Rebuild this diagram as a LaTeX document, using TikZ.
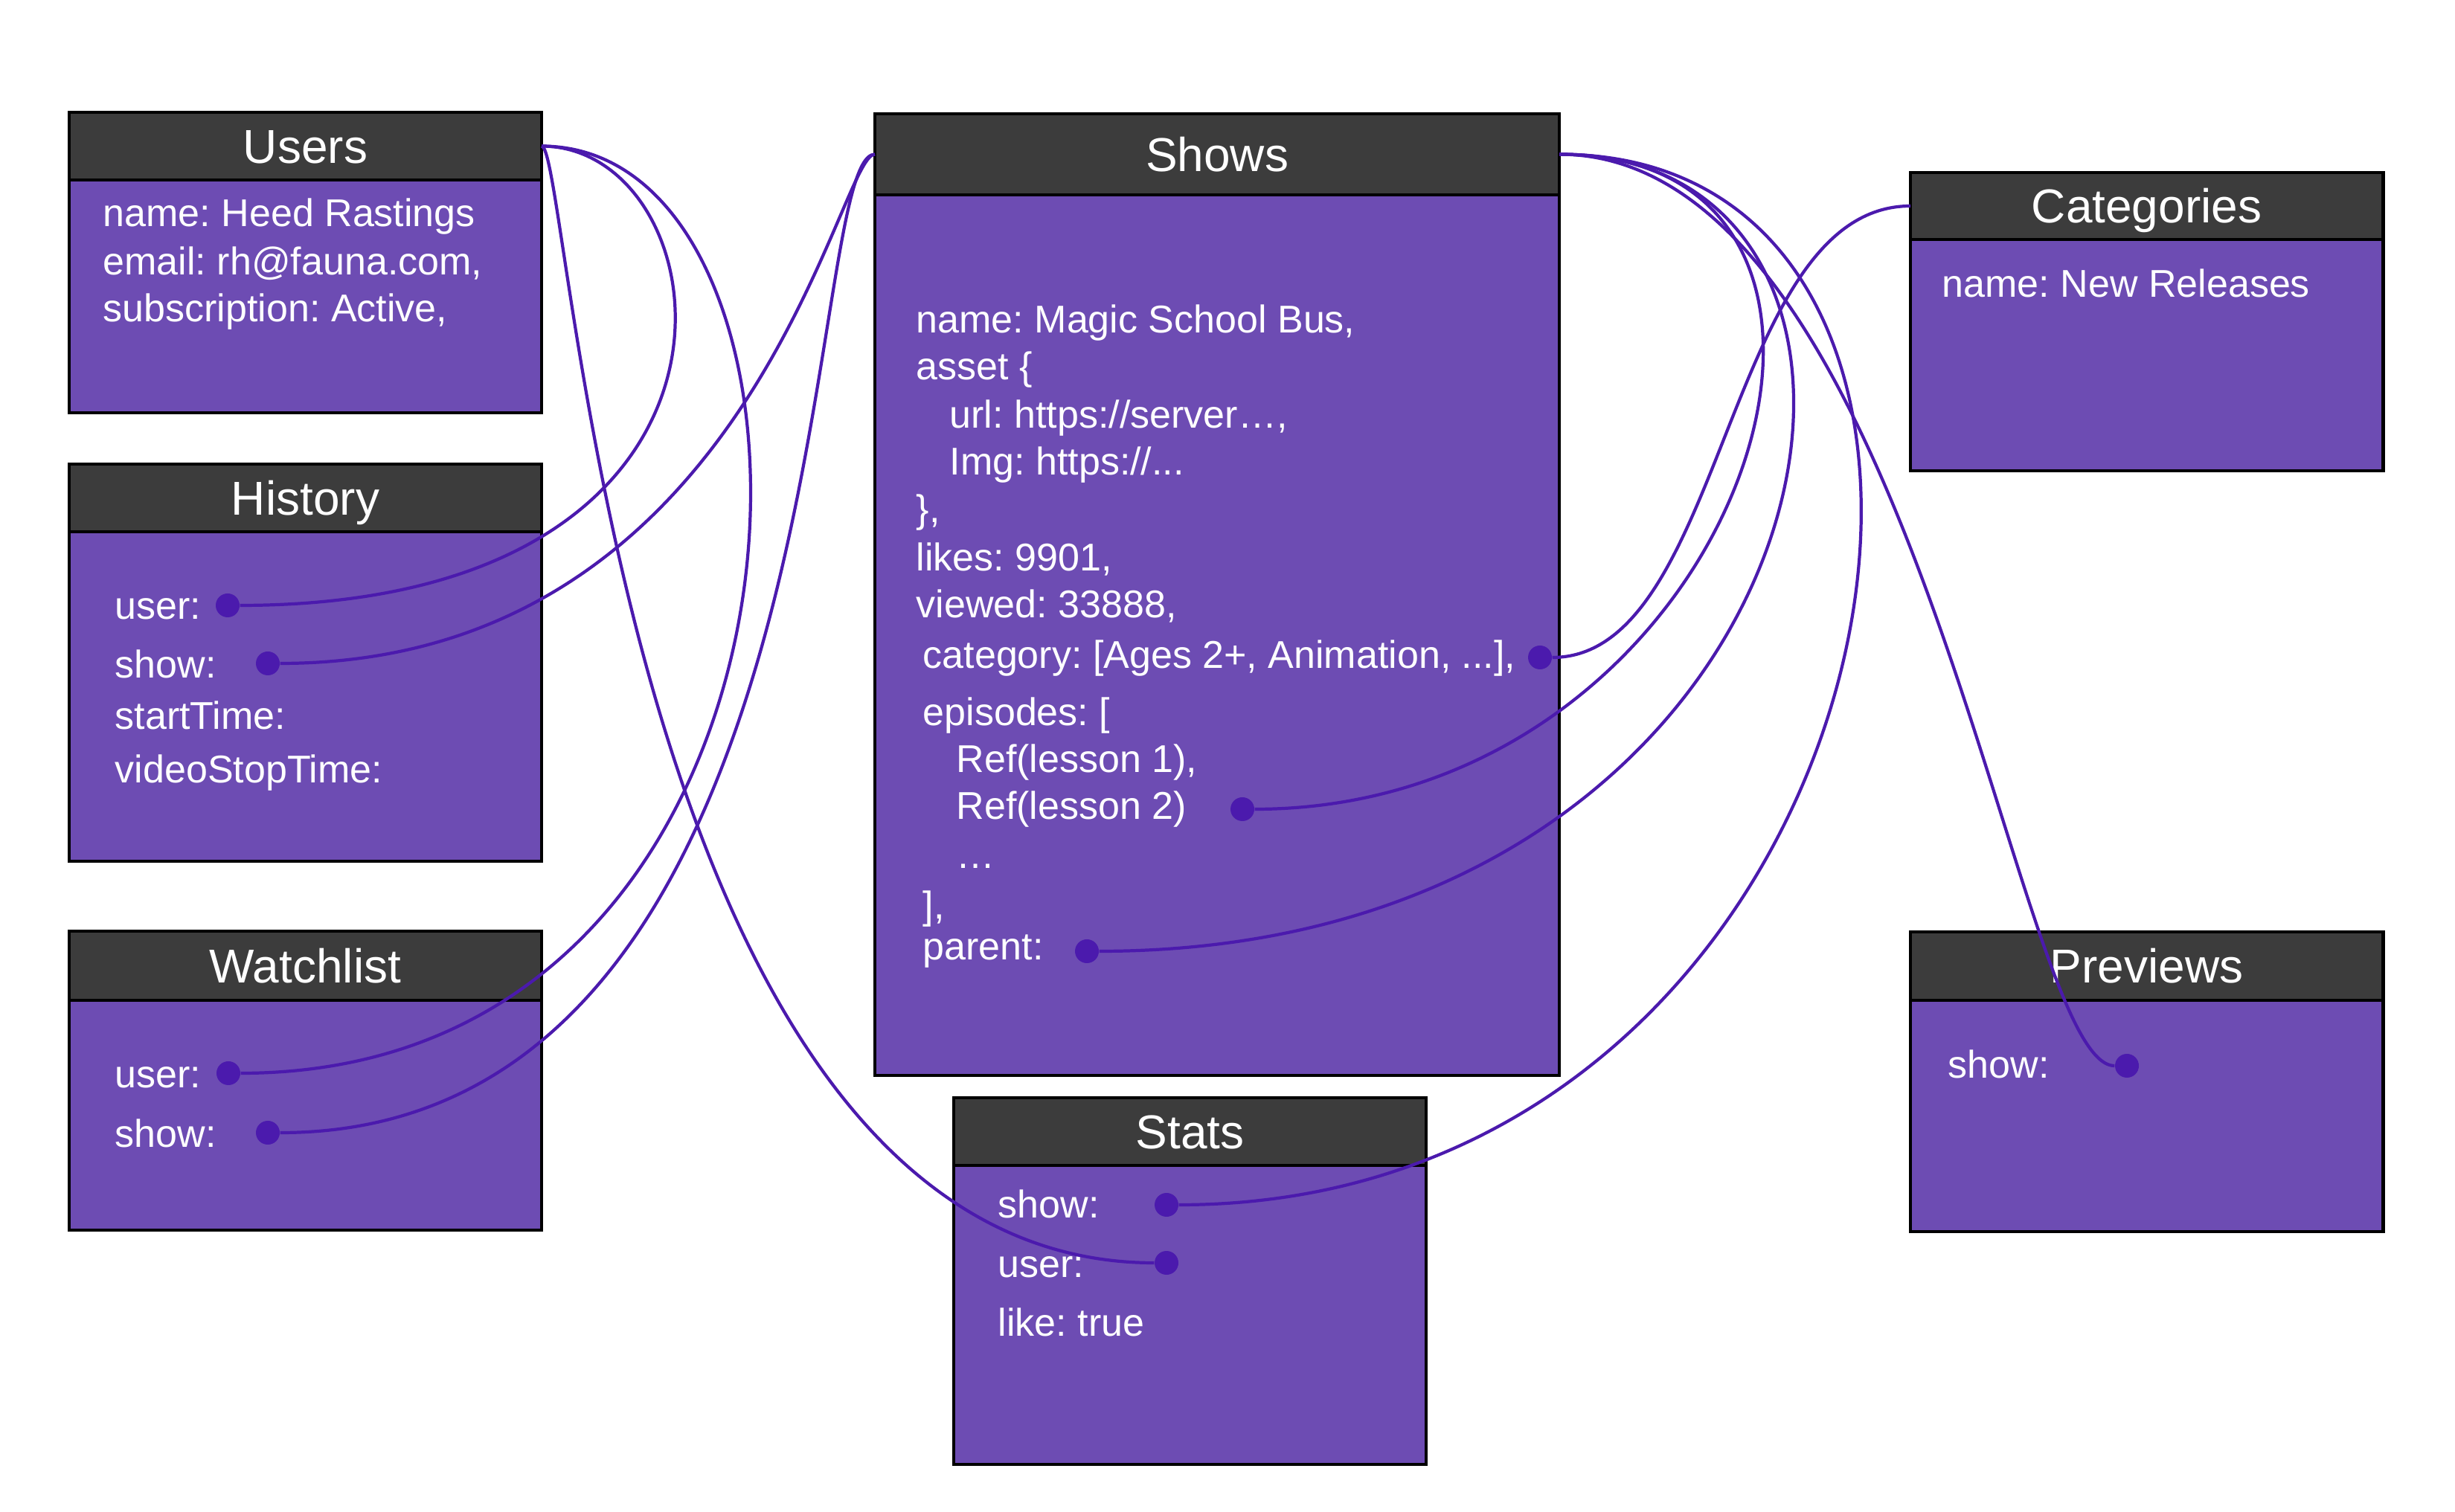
\documentclass[tikz,border=0pt]{standalone}
\usepackage{fontspec}
\setmainfont{Liberation Sans}
\usepackage{xcolor}
\usetikzlibrary{positioning,calc}

\definecolor{headgray}{HTML}{3C3C3C}
\definecolor{bodypurple}{HTML}{6D4CB3}
\definecolor{linkpurple}{HTML}{4B1AAD}
\frenchspacing

\begin{document}
\begin{tikzpicture}[
    tablehead/.style={rectangle, draw, line width=1.4pt, fill=headgray, text=white, outer sep=0pt,
        minimum width=6.35cm, minimum height=0.91cm, anchor=north west,
        font=\fontsize{18.2}{21}\selectfont, text height=0.46cm, text depth=0pt},
    tablebody/.style={rectangle, draw, line width=1.4pt, fill=bodypurple, outer sep=0pt, minimum width=6.35cm},
    field/.style={anchor=base west, inner sep=0pt, text=white, font=\fontsize{14.8}{17.8}\selectfont},
    refdot/.style={circle, fill=linkpurple, inner sep=0pt, minimum size=0.32cm},
    link/.style={draw=linkpurple, line width=1.2pt}
]
    \useasboundingbox (0,0) rectangle (33,20.32);

    % tables
    \node[tablehead] (users) at (0.93,18.81) {Users};
    \node[tablebody, below=0pt of users, minimum height=3.13cm] (usersbody) {};
    \node[tablehead, below=0.69cm of usersbody] (history) {History};
    \node[tablebody, below=0pt of history, minimum height=4.43cm] (historybody) {};
    \node[tablehead, below=0.94cm of historybody, minimum height=0.93cm] (watchlist) {Watchlist};
    \node[tablebody, below=0pt of watchlist, minimum height=3.09cm] (watchlistbody) {};

    \node[tablehead, minimum width=9.2cm, minimum height=1.09cm] (shows) at (11.76,18.79) {Shows};
    \node[tablebody, below=0pt of shows, minimum width=9.2cm, minimum height=11.84cm] (showsbody) {};
    \node[tablehead] (stats) at (12.82,5.56) {Stats};
    \node[tablebody, below=0pt of stats, minimum height=4.02cm] (statsbody) {};

    \node[tablehead, minimum height=0.90cm] (categories) at (25.68,18.00) {Categories};
    \node[tablebody, below=0pt of categories, minimum height=3.11cm] (categoriesbody) {};
    \node[tablehead, below=6.2cm of categoriesbody, minimum height=0.92cm] (previews) {Previews};
    \node[tablebody, below=0pt of previews, minimum height=3.11cm] (previewsbody) {};

    % fields
    \node[field] (uname) at (1.38,17.27) {name: Heed Rastings};
    \node[field] (uemail) at (1.38,16.62) {email: rh@fauna.com,};
    \node[field] (usub) at (1.38,15.99) {subscription: Active,};

    \node[field] (huser) at (1.54,11.99) {user:};
    \node[field] (hshow) at (1.54,11.20) {show:};
    \node[field] (hstart) at (1.54,10.51) {startTime:};
    \node[field] (hstop) at (1.54,9.79) {videoStopTime:};

    \node[field] (wuser) at (1.54,5.69) {user:};
    \node[field] (wshow) at (1.54,4.90) {show:};

    \node[field] (sname) at (12.31,15.84) {name: Magic School Bus,};
    \node[field] (sasset) at (12.31,15.21) {asset \{};
    \node[field] (surl) at (12.76,14.56) {url: https://server…,};
    \node[field] (simg) at (12.76,13.93) {Img: https://...};
    \node[field] (sclose) at (12.31,13.29) {\},};
    \node[field] (slikes) at (12.31,12.64) {likes: 9901,};
    \node[field] (sviewed) at (12.31,12.01) {viewed: 33888,};
    \node[field] (scat) at (12.40,11.33) {category: [Ages 2+, Animation, ...],};
    \node[field] (seps) at (12.40,10.56) {episodes: [};
    \node[field] (sref1) at (12.85,9.93) {Ref(lesson 1),};
    \node[field] (sref2) at (12.85,9.30) {Ref(lesson 2)};
    \node[field] (smore) at (12.85,8.64) {…};
    \node[field] (sepsend) at (12.40,7.96) {],};
    \node[field] (sparent) at (12.40,7.41) {parent:};

    \node[field] (tshow) at (13.41,3.95) {show:};
    \node[field] (tuser) at (13.41,3.15) {user:};
    \node[field] (tlike) at (13.41,2.36) {like: true};

    \node[field] (cname) at (26.10,16.32) {name: New Releases};
    \node[field] (pshow) at (26.18,5.82) {show:};

    % reference dots
    \node[refdot] (histuser) at (3.06,12.18) {};
    \node[refdot] (histshow) at (3.60,11.40) {};
    \node[refdot] (watchuser) at (3.07,5.89) {};
    \node[refdot] (watchshow) at (3.60,5.09) {};
    \node[refdot] (showcat) at (20.70,11.48) {};
    \node[refdot] (showep) at (16.70,9.44) {};
    \node[refdot] (showparent) at (14.61,7.53) {};
    \node[refdot] (statshow) at (15.68,4.12) {};
    \node[refdot] (statuser) at (15.68,3.34) {};
    \node[refdot] (prevshow) at (28.59,5.99) {};

    % references
    \draw[link] (users.east) .. controls ($(users.east)+(2.5,0)$) and ($(histuser)+(7.6,0)$) .. (histuser);
    \draw[link] (users.east) .. controls ($(users.east)+(4.3,0)$) and ($(watchuser)+(8.4,0)$) .. (watchuser);
    \draw[link] (users.east) .. controls ($(users.east)+(0.4,0)$) and ($(statuser)+(-7.4,0)$) .. (statuser);
    \draw[link] (shows.west) .. controls ($(shows.west)+(-0.5,0)$) and ($(histshow)+(6.5,0)$) .. (histshow);
    \draw[link] (shows.west) .. controls ($(shows.west)+(-1.0,0)$) and ($(watchshow)+(7.8,0)$) .. (watchshow);
    \draw[link] (showcat) .. controls ($(showcat)+(2.5,0)$) and ($(categories.west)+(-2.5,0)$) .. (categories.west);
    \draw[link] (shows.east) .. controls ($(shows.east)+(5.2,0)$) and ($(showep)+(6.8,0)$) .. (showep);
    \draw[link] (shows.east) .. controls ($(shows.east)+(5.6,0)$) and ($(showparent)+(10.2,0)$) .. (showparent);
    \draw[link] (shows.east) .. controls ($(shows.east)+(7.0,0)$) and ($(statshow)+(10.0,0)$) .. (statshow);
    \draw[link] (shows.east) .. controls ($(shows.east)+(4.8,0)$) and ($(prevshow)+(-1.5,0)$) .. (prevshow);
\end{tikzpicture}
\end{document}
